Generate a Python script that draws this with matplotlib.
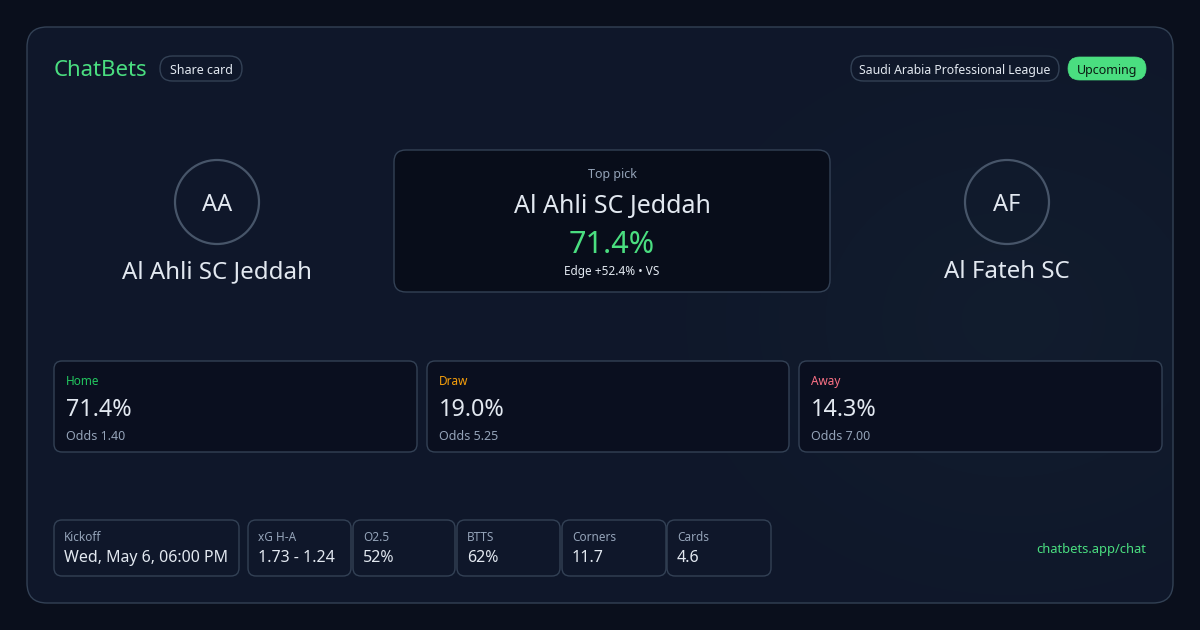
import matplotlib.pyplot as plt
import numpy as np
from matplotlib.patches import Circle, FancyBboxPatch

plt.rcParams['font.family'] = ['Noto Sans', 'DejaVu Sans']

# Match data
brand = "ChatBets"
league = "Saudi Arabia Professional League"
status = "Upcoming"
home_team = "Al Ahli SC Jeddah"
away_team = "Al Fateh SC"
home_initials = "AA"
away_initials = "AF"
top_pick = "Al Ahli SC Jeddah"
top_pick_prob = 71.4
edge = 52.4
edge_source = "VS"

outcome_labels = ["Home", "Draw", "Away"]
outcome_probs = [71.4, 19.0, 14.3]
outcome_odds = [1.40, 5.25, 7.00]

stat_labels = ["Kickoff", "xG H-A", "O2.5", "BTTS", "Corners", "Cards"]
stat_values = ["Wed, May 6, 06:00 PM", "1.73 - 1.24", "52%", "62%", "11.7", "4.6"]
footer_link = "chatbets.app/chat"

# Palette
BG = "#0a0f1c"
CARD = "#0f172a"
BOX = "#0a0f1f"
BORDER = "#334155"
GREEN = "#4ade80"
TEXT = "#e2e8f0"
MUTED = "#94a3b8"
OUTCOME_COLORS = ["#22c55e", "#f59e0b", "#fb7185"]

fig = plt.figure(figsize=(12, 6.3), dpi=100, facecolor=BG)
ax = fig.add_axes([0, 0, 1, 1])
ax.set_xlim(0, 1200)
ax.set_ylim(630, 0)
ax.axis("off")
ax.set_facecolor(BG)


def rbox(x0, y0, x1, y1, r, face, edge=BORDER, lw=1.0, z=2):
    p = FancyBboxPatch((x0 + r, y0 + r), (x1 - x0) - 2 * r, (y1 - y0) - 2 * r,
                       boxstyle=f"round,pad={r}", facecolor=face, edgecolor=edge,
                       linewidth=lw, zorder=z)
    ax.add_patch(p)
    return p


def txt(x, y, s, color, size, ha="left"):
    # small downward nudge so glyphs sit where the reference has them
    ax.text(x, y + size * 0.12, s, color=color, fontsize=size, va="center", ha=ha, zorder=5)


# Outer card with a faint glow on the right
card = rbox(27, 27, 1173, 603, 20, CARD, lw=1.0, z=1)
yy, xx = np.mgrid[0:630, 0:1200]
d2 = ((xx - 1010) / 260.0) ** 2 + ((yy - 320) / 220.0) ** 2
glow = np.exp(-d2)
rgba = np.zeros((630, 1200, 4))
rgba[..., 0] = 0.13
rgba[..., 1] = 0.25
rgba[..., 2] = 0.27
rgba[..., 3] = glow * 0.13
im = ax.imshow(rgba, extent=(0, 1200, 630, 0), zorder=1.5, interpolation="bilinear")
im.set_clip_path(card)
ax.set_xlim(0, 1200)
ax.set_ylim(630, 0)

# Header
txt(54, 69, brand, GREEN, 16)
rbox(160, 56, 242, 81, 12.5, "none", lw=1.0, z=3)
txt(201, 69, "Share card", TEXT, 9, ha="center")
rbox(851, 56, 1059, 81, 12.5, "none", lw=1.0, z=3)
txt(955, 69, league, TEXT, 8.8, ha="center")
rbox(1068, 57, 1146, 80, 11.5, GREEN, edge=GREEN, lw=0.5, z=3)
txt(1107, 69, status, "#0b1a12", 9, ha="center")

# Teams
for cx, initials, name in [(217, home_initials, home_team), (1007, away_initials, away_team)]:
    ax.add_patch(Circle((cx, 202), 42, facecolor="none", edgecolor="#475569", linewidth=1.6, zorder=3))
    txt(cx, 203, initials, TEXT, 17, ha="center")
    txt(cx, 270, name, TEXT, 17.3, ha="center")

# Top pick box
rbox(394, 150, 830, 292, 12, "#080d1a", lw=1.0, z=3)
txt(612, 173, "Top pick", MUTED, 9, ha="center")
txt(612, 204, top_pick, TEXT, 18, ha="center")
txt(612, 242, f"{top_pick_prob:.1f}%", GREEN, 22, ha="center")
txt(612, 270, f"Edge +{edge:.1f}% \u2022 {edge_source}", TEXT, 8.5, ha="center")

# Outcome boxes
box_x = [(54, 417), (427, 789), (799, 1162)]
for (x0, x1), lab, prob, odd, col in zip(box_x, outcome_labels, outcome_probs, outcome_odds, OUTCOME_COLORS):
    rbox(x0, 361, x1, 452, 8, BOX, lw=1.0, z=3)
    txt(x0 + 12, 380, lab, col, 8.5)
    txt(x0 + 12, 408, f"{prob:.1f}%", TEXT, 16.8)
    txt(x0 + 12, 435, f"Odds {odd:.2f}", MUTED, 9)

# Stat chips
stat_x = [(54, 239), (248, 351), (353, 455), (457, 560), (562, 666), (667, 771)]
for (x0, x1), lab, val in zip(stat_x, stat_labels, stat_values):
    rbox(x0, 520, x1, 576, 8, "none", lw=1.0, z=3)
    txt(x0 + 10, 536, lab, MUTED, 8.5)
    txt(x0 + 10, 557, val, TEXT, 11.5)

txt(1146, 548, footer_link, GREEN, 9.3, ha="right")

fig.savefig("out.png", dpi=100, facecolor=BG)
